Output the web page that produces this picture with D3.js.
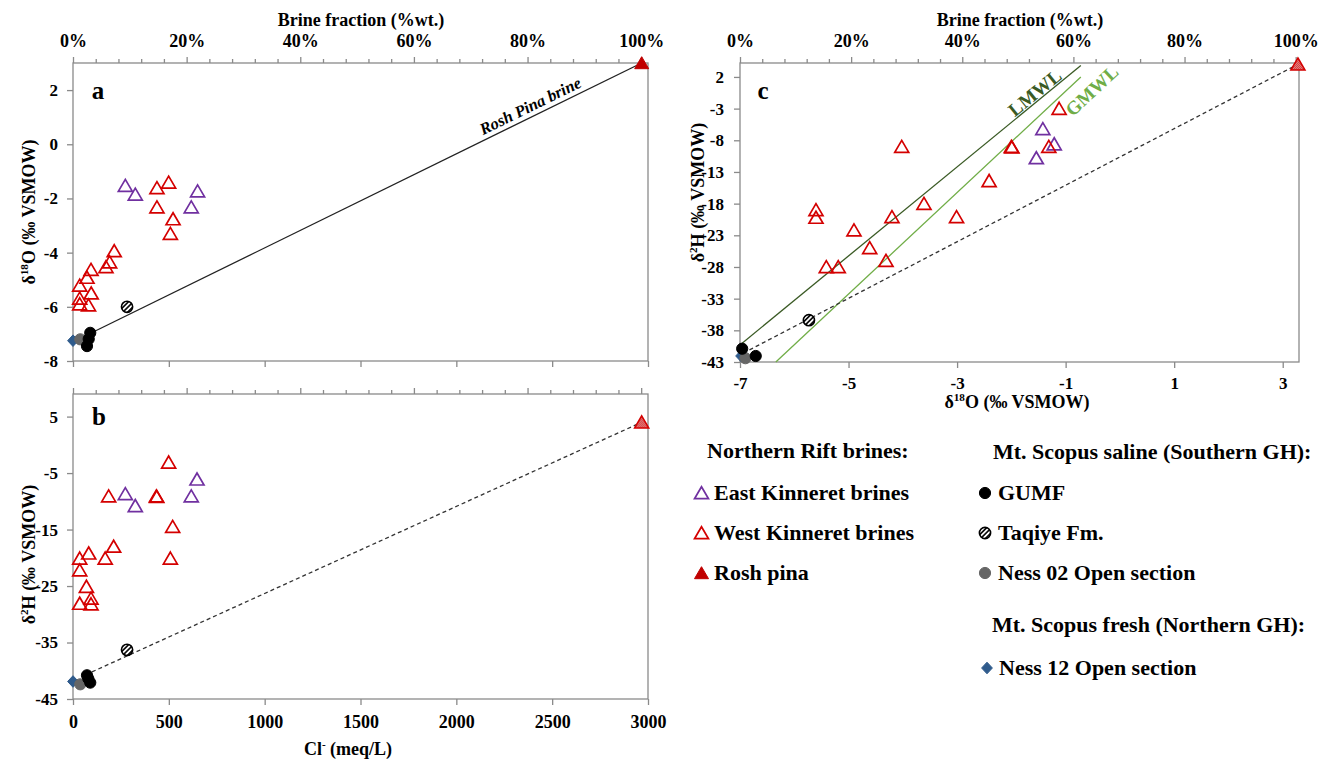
<!DOCTYPE html>
<html>
<head>
<meta charset="utf-8">
<title>Brine mixing and water isotopes</title>
<script src="https://cdn.jsdelivr.net/npm/d3@7/dist/d3.min.js"></script>
<style>
  body { margin: 0; background: #fff; }
  text { font-family: "Liberation Serif", "Times New Roman", serif; font-weight: bold; }
</style>
</head>
<body>
<svg id="chart" width="1326" height="760"></svg>
<script>
// ---------- values ----------
// panel a : Cl- (meq/L) vs d18O (permil VSMOW)
const eastA = [[273, -1.53], [325, -1.85], [650, -1.73], [617, -2.32]];
const westA = [[438, -1.61], [499, -1.41], [438, -2.32], [522, -2.76], [508, -3.30],
               [215, -3.94], [191, -4.35], [172, -4.53], [94, -4.63], [73, -4.92],
               [35, -5.21], [95, -5.50], [35, -5.69], [35, -5.90], [81, -5.94]];
const roshA = [[2967, 3.0]];
const gumfA = [[90, -6.96], [82, -7.19], [73, -7.45]];
const taqiyeA = [[282, -6.0]];
const ness02A = [[38, -7.2]];
const ness12A = [[0, -7.25]];
const mixLineA = [[108, -6.92], [2967, 3.0]];

// panel b : Cl- (meq/L) vs d2H
const eastB = [[273, -8.7], [325, -10.8], [647, -6.1], [617, -9.1]];
const westB = [[499, -3.1], [186, -9.1], [435, -9.1], [437, -9.2], [520, -14.5],
               [212, -18.0], [168, -20.1], [508, -20.1], [35, -20.1], [82, -19.2],
               [35, -22.2], [70, -25.1], [94, -27.2], [35, -28.1], [94, -28.2]];
const roshB = [[2967, 4.0]];
const gumfB = [[73, -40.8], [80, -41.4], [90, -42.1]];
const taqiyeB = [[282, -36.3]];
const ness02B = [[38, -42.4]];
const ness12B = [[0, -41.9]];
const mixLineB = [[99, -40.2], [2967, 4.0]];

// panel c : d18O vs d2H
const eastC = [[-1.42, -6.2], [-1.21, -8.6], [-1.54, -10.8]];
const westC = [[-1.12, -3.0], [-4.02, -9.0], [-2.0, -9.0], [-1.99, -9.1], [-1.31, -9.0],
               [-2.41, -14.4], [-3.61, -18.0], [-5.60, -19.0], [-5.60, -20.2], [-4.20, -20.1],
               [-3.01, -20.1], [-4.90, -22.2], [-4.61, -25.0], [-4.31, -27.0], [-5.41, -28.0],
               [-5.19, -28.0]];
const roshC = [[3.28, 4.0]];
const gumfC = [[-6.96, -40.9], [-6.71, -42.05]];
const taqiyeC = [[-5.73, -36.4]];
const ness02C = [[-6.90, -42.4]];
const ness12C = [[-6.98, -42.05]];
const mixLineC = [[-6.94, -41.6], [3.28, 4.0]];
const lmwl = [[-7.0, -40.3], [-0.72, 3.8]];
const gmwl = [[-6.34, -43.0], [-0.72, 2.0]];

// ticks
const clTicks = [0, 500, 1000, 1500, 2000, 2500, 3000];
const fracTicks = d3.range(0, 101, 4);
const fracLabels = [0, 20, 40, 60, 80, 100];
const d18OTicksA = [-8, -6, -4, -2, 0, 2];
const d2HTicksB = [-45, -35, -25, -15, -5, 5];
const d2HTicksC = [-43, -38, -33, -28, -23, -18, -13, -8, -3, 2];
const d18OTicksC = [-7, -5, -3, -1, 1, 3];

// legend
const legendRift = [['east', 'East Kinneret brines'], ['west', 'West Kinneret brines'], ['rosh', 'Rosh pina']];
const legendSaline = [['gumf', 'GUMF'], ['taqiye', 'Taqiye Fm.'], ['ness02', 'Ness 02 Open section']];
const legendFresh = [['ness12', 'Ness 12 Open section']];

// ---------- drawing ----------
const grey = '#8a8a8a';
const red = '#d40000';
const purple = '#7030a0';

const svg = d3.select('#chart');

const defs = svg.append('defs');
const hb = defs.append('pattern').attr('id', 'hatchBlack')
  .attr('patternUnits', 'userSpaceOnUse').attr('width', 3.4).attr('height', 3.4)
  .attr('patternTransform', 'rotate(-45)');
hb.append('rect').attr('width', 3.4).attr('height', 3.4).attr('fill', '#fff');
hb.append('rect').attr('width', 3.4).attr('height', 1.6).attr('fill', '#000');

const hr = defs.append('pattern').attr('id', 'hatchRed')
  .attr('patternUnits', 'userSpaceOnUse').attr('width', 2).attr('height', 2);
hr.append('rect').attr('width', 2).attr('height', 2).attr('fill', '#f0a8a8');
hr.append('rect').attr('width', 1).attr('height', 1).attr('fill', '#c81818');
hr.append('rect').attr('x', 1).attr('y', 1).attr('width', 1).attr('height', 1).attr('fill', '#c81818');

const shapes = {
  tri: 'M0,-6.3L7,5.7L-7,5.7Z',
  circle: d3.symbol(d3.symbolCircle, Math.PI * 5.6 * 5.6)(),
  diamond: 'M0,-5.8L5.4,0L0,5.8L-5.4,0Z'
};

const styles = {
  east:      {shape: 'tri', fill: 'none', stroke: purple, sw: 1.7},
  west:      {shape: 'tri', fill: 'none', stroke: red, sw: 1.7},
  rosh:      {shape: 'tri', fill: '#c00000', stroke: '#c00000', sw: 1},
  roshHatch: {shape: 'tri', fill: 'url(#hatchRed)', stroke: red, sw: 1.6},
  gumf:      {shape: 'circle', fill: '#000', stroke: '#000', sw: 1},
  taqiye:    {shape: 'circle', fill: 'url(#hatchBlack)', stroke: '#000', sw: 1.6},
  ness02:    {shape: 'circle', fill: '#666', stroke: '#666', sw: 1},
  ness12:    {shape: 'diamond', fill: '#2f5b8c', stroke: '#2f5b8c', sw: 1}
};

function plotSeries(g, data, kind, x, y) {
  const s = styles[kind];
  g.selectAll(null).data(data).join('path')
    .attr('d', shapes[s.shape])
    .attr('transform', d => `translate(${x(d[0])},${y(d[1])})`)
    .attr('fill', s.fill)
    .attr('stroke', s.stroke)
    .attr('stroke-width', s.sw);
}

function plotLine(g, data, x, y, color, dash) {
  g.append('path')
    .datum(data)
    .attr('d', d3.line().x(d => x(d[0])).y(d => y(d[1])))
    .attr('fill', 'none')
    .attr('stroke', color)
    .attr('stroke-width', 1.3)
    .attr('stroke-dasharray', dash || null);
}

function styleAxis(a, size) {
  a.attr('font-size', size);
  a.select('.domain').remove();
  a.selectAll('.tick line').attr('stroke', grey).attr('stroke-width', 1.3);
  a.selectAll('.tick text').attr('fill', '#000');
}

function frame(p) {
  svg.append('rect')
    .attr('x', p.left).attr('y', p.top)
    .attr('width', p.right - p.left).attr('height', p.bottom - p.top)
    .attr('fill', 'none').attr('stroke', grey).attr('stroke-width', 1.3);
}

function fracAxis(scale, ty, labels) {
  const a = svg.append('g').attr('transform', `translate(0,${ty})`)
    .call(d3.axisTop(scale).tickValues(fracTicks).tickSize(6).tickPadding(10)
      .tickFormat(d => labels && fracLabels.includes(d) ? d + '%' : ''));
  styleAxis(a, 18);
  a.selectAll('.tick line').filter(d => !fracLabels.includes(d)).attr('y2', -4);
}

// text with a superscript part, parts = [[string, isSup], ...]
function richText(sel, parts, size) {
  parts.forEach(([t, sup], i) => {
    const prev = i > 0 && parts[i - 1][1];
    sel.append('tspan')
      .attr('font-size', sup ? size * 0.62 : size)
      .attr('dy', sup ? -size * 0.38 : (prev ? size * 0.38 : null))
      .text(t);
  });
  return sel;
}

const pa = {left: 73, right: 648, top: 63, bottom: 361};
const pb = {left: 73, right: 648, top: 394, bottom: 699};
const pc = {left: 740, right: 1299, top: 63, bottom: 362};

const xCl = d3.scaleLinear().domain([0, 3000]).range([pa.left, pa.right]);
const fracAB = d3.scaleLinear().domain([0, 101.2]).range([pa.left, pa.right]);
const yA = d3.scaleLinear().domain([-8, 3]).range([pa.bottom, pa.top]);
const yB = d3.scaleLinear().domain([-45, 9]).range([pb.bottom, pb.top]);
const xC = d3.scaleLinear().domain([-7, 3.3]).range([pc.left, pc.right]);
const yC = d3.scaleLinear().domain([-43, 4.2]).range([pc.bottom, pc.top]);
const fracC = d3.scaleLinear().domain([0, 100.6]).range([pc.left, pc.right]);

// ----- panel a -----
frame(pa);
fracAxis(fracAB, pa.top, true);
styleAxis(svg.append('g').attr('transform', `translate(${pa.left},0)`)
  .call(d3.axisLeft(yA).tickValues(d18OTicksA).tickSize(6).tickPadding(9).tickFormat(d => String(d))), 17);
styleAxis(svg.append('g').attr('transform', `translate(0,${pa.bottom})`)
  .call(d3.axisBottom(xCl).tickValues(clTicks).tickSize(6).tickFormat('')), 17);

const gA = svg.append('g');
plotLine(gA, mixLineA, xCl, yA, '#222');
{
  const p0 = mixLineA[0], p1 = mixLineA[1];
  const ang = Math.atan2(yA(p1[1]) - yA(p0[1]), xCl(p1[0]) - xCl(p0[0])) * 180 / Math.PI;
  const labCl = 2410;
  const labY = p0[1] + (labCl - p0[0]) / (p1[0] - p0[0]) * (p1[1] - p0[1]);
  gA.append('text')
    .attr('transform', `translate(${xCl(labCl)},${yA(labY)}) rotate(${ang})`)
    .attr('text-anchor', 'middle').attr('dy', -5)
    .attr('font-size', 16.5).attr('font-style', 'italic')
    .text('Rosh Pina brine');
}
plotSeries(gA, ness12A, 'ness12', xCl, yA);
plotSeries(gA, ness02A, 'ness02', xCl, yA);
plotSeries(gA, gumfA, 'gumf', xCl, yA);
plotSeries(gA, taqiyeA, 'taqiye', xCl, yA);
plotSeries(gA, eastA, 'east', xCl, yA);
plotSeries(gA, westA, 'west', xCl, yA);
plotSeries(gA, roshA, 'rosh', xCl, yA);

svg.append('text').attr('x', 98).attr('y', 99).attr('text-anchor', 'middle')
  .attr('font-size', 25).text('a');
svg.append('text').attr('x', 361).attr('y', 26).attr('text-anchor', 'middle')
  .attr('font-size', 18).text('Brine fraction (%wt.)');
richText(svg.append('text')
  .attr('transform', `translate(35,${(pa.top + pa.bottom) / 2}) rotate(-90)`)
  .attr('text-anchor', 'middle'),
  [['δ', false], ['18', true], ['O (‰ VSMOW)', false]], 18);

// ----- panel b -----
frame(pb);
fracAxis(fracAB, pb.top, false);
styleAxis(svg.append('g').attr('transform', `translate(${pb.left},0)`)
  .call(d3.axisLeft(yB).tickValues(d2HTicksB).tickSize(6).tickPadding(9).tickFormat(d => String(d))), 17);
styleAxis(svg.append('g').attr('transform', `translate(0,${pb.bottom})`)
  .call(d3.axisBottom(xCl).tickValues(clTicks).tickSize(6).tickPadding(10).tickFormat(d => String(d))), 18);

const gB = svg.append('g');
plotLine(gB, mixLineB, xCl, yB, '#333', '4,3');
plotSeries(gB, ness12B, 'ness12', xCl, yB);
plotSeries(gB, ness02B, 'ness02', xCl, yB);
plotSeries(gB, gumfB, 'gumf', xCl, yB);
plotSeries(gB, taqiyeB, 'taqiye', xCl, yB);
plotSeries(gB, eastB, 'east', xCl, yB);
plotSeries(gB, westB, 'west', xCl, yB);
plotSeries(gB, roshB, 'roshHatch', xCl, yB);

svg.append('text').attr('x', 99).attr('y', 425).attr('text-anchor', 'middle')
  .attr('font-size', 25).text('b');
richText(svg.append('text').attr('x', 348).attr('y', 755).attr('text-anchor', 'middle'),
  [['Cl', false], ['-', true], [' (meq/L)', false]], 18);
richText(svg.append('text')
  .attr('transform', `translate(35,${(pb.top + pb.bottom) / 2 + 8}) rotate(-90)`)
  .attr('text-anchor', 'middle'),
  [['δ', false], ['2', true], ['H (‰ VSMOW)', false]], 18);

// ----- panel c -----
frame(pc);
fracAxis(fracC, pc.top, true);
styleAxis(svg.append('g').attr('transform', `translate(${pc.left},0)`)
  .call(d3.axisLeft(yC).tickValues(d2HTicksC).tickSize(6).tickPadding(10).tickFormat(d => String(d))), 17);
styleAxis(svg.append('g').attr('transform', `translate(0,${pc.bottom})`)
  .call(d3.axisBottom(xC).tickValues(d18OTicksC).tickSize(6).tickPadding(9).tickFormat(d => String(d))), 17);

const gC = svg.append('g');
plotLine(gC, lmwl, xC, yC, '#3a5a24');
plotLine(gC, gmwl, xC, yC, '#70ad47');
plotLine(gC, mixLineC, xC, yC, '#333', '4,3');

function lineLabel(line, at, text, color, dy) {
  const p0 = line[0], p1 = line[1];
  const ang = Math.atan2(yC(p1[1]) - yC(p0[1]), xC(p1[0]) - xC(p0[0])) * 180 / Math.PI;
  gC.append('text')
    .attr('transform', `translate(${xC(at[0])},${yC(at[1])}) rotate(${ang})`)
    .attr('text-anchor', 'middle').attr('dy', dy)
    .attr('font-size', 19).attr('fill', color)
    .text(text);
}
lineLabel(lmwl, [-1.57, -0.46], 'LMWL', '#3a5a24', '0.35em');
lineLabel(gmwl, [-0.52, -0.14], 'GMWL', '#70ad47', '0.35em');

plotSeries(gC, ness12C, 'ness12', xC, yC);
plotSeries(gC, ness02C, 'ness02', xC, yC);
plotSeries(gC, gumfC, 'gumf', xC, yC);
plotSeries(gC, taqiyeC, 'taqiye', xC, yC);
plotSeries(gC, eastC, 'east', xC, yC);
plotSeries(gC, westC, 'west', xC, yC);
plotSeries(gC, roshC, 'roshHatch', xC, yC);

svg.append('text').attr('x', 763).attr('y', 99).attr('text-anchor', 'middle')
  .attr('font-size', 25).text('c');
svg.append('text').attr('x', 1020).attr('y', 26).attr('text-anchor', 'middle')
  .attr('font-size', 18).text('Brine fraction (%wt.)');
richText(svg.append('text').attr('x', 1017).attr('y', 408).attr('text-anchor', 'middle'),
  [['δ', false], ['18', true], ['O (‰ VSMOW)', false]], 18);
richText(svg.append('text')
  .attr('transform', `translate(704,${(pc.top + pc.bottom) / 2 - 20}) rotate(-90)`)
  .attr('text-anchor', 'middle'),
  [['δ', false], ['2', true], ['H (‰ VSMOW)', false]], 18);

// ----- legend -----
const lg = svg.append('g').attr('font-size', 22);
lg.append('text').attr('x', 707).attr('y', 458).text('Northern Rift brines:');
lg.append('text').attr('x', 993).attr('y', 459).text('Mt. Scopus saline (Southern GH):');
lg.append('text').attr('x', 992).attr('y', 632).text('Mt. Scopus fresh (Northern GH):');

function legendRows(items, mx, tx, y0, step) {
  items.forEach(([kind, label], i) => {
    const s = styles[kind];
    const y = y0 + i * step;
    lg.append('path').attr('d', shapes[s.shape])
      .attr('transform', `translate(${mx},${y - 7})`)
      .attr('fill', s.fill).attr('stroke', s.stroke).attr('stroke-width', s.sw);
    lg.append('text').attr('x', tx).attr('y', y).text(label);
  });
}
legendRows(legendRift, 701.5, 714, 500, 40);
legendRows(legendSaline, 985, 998, 500, 40);
legendRows(legendFresh, 987, 999, 675, 40);
</script>
</body>
</html>
